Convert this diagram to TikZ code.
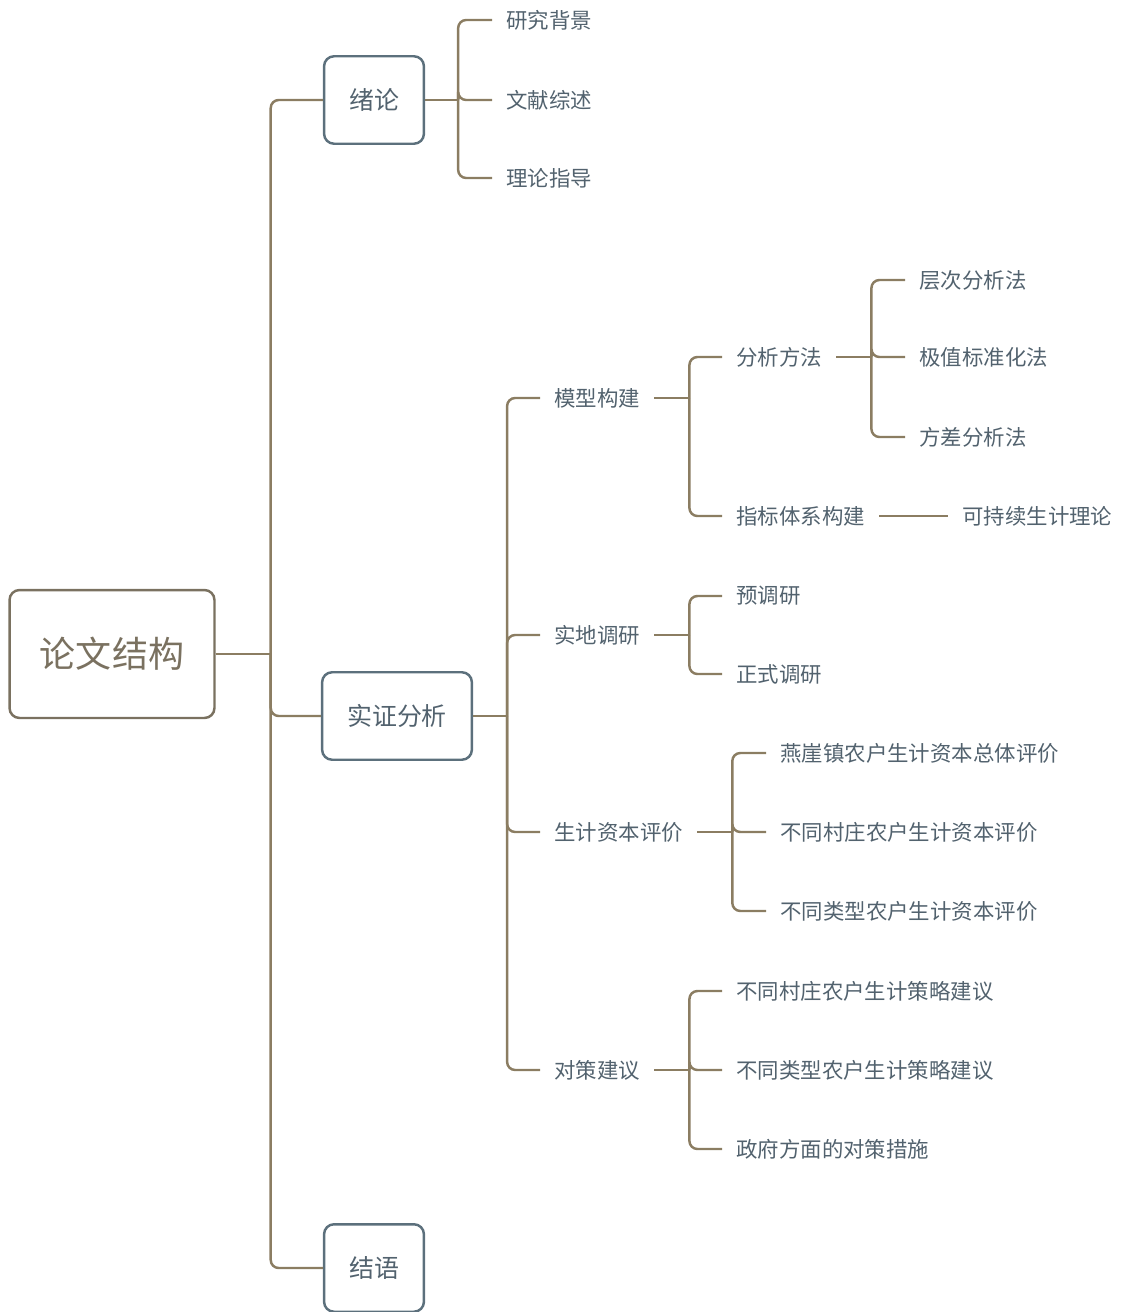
\documentclass[tikz,border=0pt]{standalone}
\usepackage{fontspec}
\newfontfamily\cjk{Noto Sans CJK SC}
\definecolor{linkcol}{RGB}{139,125,98}
\definecolor{boxcol}{RGB}{92,112,124}
\definecolor{rootcol}{RGB}{122,113,96}
\definecolor{leafcol}{RGB}{82,98,110}
\begin{document}
\begin{tikzpicture}
[x=0.02cm,y=-0.02cm,every node/.style={font=\cjk},
 rootbox/.style={draw=rootcol,line width=1.4pt,rounded corners=0.2cm,text=rootcol,font=\cjk\fontsize{20.5}{24}\selectfont,minimum width=4.1cm,minimum height=2.56cm},
 topbox/.style={draw=boxcol,line width=1.4pt,rounded corners=0.2cm,text=leafcol,font=\cjk\fontsize{14.2}{17}\selectfont,inner xsep=0.5cm,minimum height=1.75cm},
 leaf/.style={anchor=west,text=leafcol,inner xsep=0.28cm,font=\cjk\fontsize{12.2}{15}\selectfont},
 link/.style={draw=linkcol,line width=1.4pt}]
  \useasboundingbox (0,0) rectangle (1124,1312);

  	\node[rootbox] (root) at (112,654) {论文结构};
    \node[topbox] (xulun) at (374,100) {绪论};
    \node[topbox] (shizheng) at (397,716) {实证分析};
    \node[topbox] (jieyu) at (374,1268) {结语};

    \node[leaf] (bg) at (492,20) {研究背景};
    \node[leaf] (wx) at (492,100) {文献综述};
    \node[leaf] (ll) at (492,178) {理论指导};

    \node[leaf] (mx) at (540,398) {模型构建};
    \node[leaf] (sd) at (540,635) {实地调研};
    \node[leaf] (sj) at (540,832) {生计资本评价};
    \node[leaf] (dc) at (540,1070) {对策建议};

    \node[leaf] (fx) at (722,357) {分析方法};
    \node[leaf] (zb) at (722,516) {指标体系构建};
    \node[leaf] (kcx) at (948,516) {可持续生计理论};
    \node[leaf] (cc) at (905,280) {层次分析法};
    \node[leaf] (jz) at (905,357) {极值标准化法};
    \node[leaf] (fc) at (905,437) {方差分析法};

    \node[leaf] (ydy) at (722,596) {预调研};
    \node[leaf] (zsdy) at (722,674) {正式调研};

    \node[leaf] (zt) at (766,753) {燕崖镇农户生计资本总体评价};
    \node[leaf] (cz) at (766,832) {不同村庄农户生计资本评价};
    \node[leaf] (lx) at (766,911) {不同类型农户生计资本评价};

    \node[leaf] (clcz) at (722,991) {不同村庄农户生计策略建议};
    \node[leaf] (cllx) at (722,1070) {不同类型农户生计策略建议};
    \node[leaf] (zf) at (722,1149) {政府方面的对策措施};

  \foreach \from/\to/\dx in {root/xulun/55,root/shizheng/55,root/jieyu/55,
      xulun/bg/33,xulun/wx/33,xulun/ll/33,
      shizheng/mx/34,shizheng/sd/34,shizheng/sj/34,shizheng/dc/34,
      mx/fx/35,mx/zb/35,fx/cc/35,fx/jz/35,fx/fc/35,
      sd/ydy/35,sd/zsdy/35,sj/zt/35,sj/cz/35,sj/lx/35,
      dc/clcz/35,dc/cllx/35,dc/zf/35}
  {
    \draw[link] (\from.east) -- ++(\dx,0) coordinate (j);
    \draw[link,rounded corners=0.16cm] (j) |- (\to.west);
  }

  \draw[link] (zb) -- (kcx);

 \end{tikzpicture}
\end{document}
